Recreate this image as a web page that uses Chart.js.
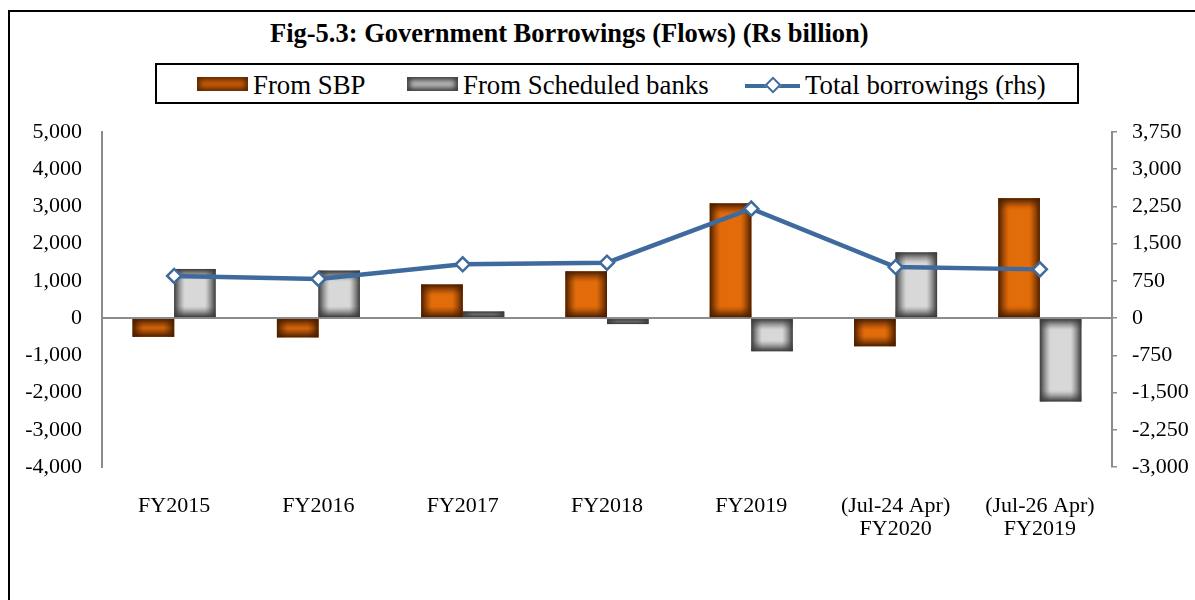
<!DOCTYPE html>
<html>
<head>
<meta charset="utf-8">
<script src="https://cdn.jsdelivr.net/npm/chart.js@4/dist/chart.umd.min.js"></script>
<style>
  html, body { margin: 0; padding: 0; background: #fff; }
  body { width: 1195px; height: 600px; position: relative; overflow: hidden; font-family: "Liberation Serif", "Times New Roman", serif; }
  #frame { position: absolute; left: 8px; top: 10px; width: 1200px; height: 600px; border-left: 2px solid #000; border-top: 2px solid #000; }
  #title { position: absolute; left: 270px; top: 20px; font-size: 26.5px; line-height: 1; font-weight: bold; white-space: nowrap; }
  #legend { position: absolute; left: 155px; top: 63px; width: 920px; height: 37px; border: 2px solid #000; }
  .item { position: absolute; top: 7px; font-size: 26.8px; line-height: 1; white-space: nowrap; }
  .swatch { position: absolute; width: 51px; height: 14px; }
  .sbp { background: #c85a08; box-shadow: inset 0 0 5px 3px #5a2800; }
  .banks { background: #b8b8b8; box-shadow: inset 0 0 5px 3px #3c3c3c; }
  .lineSw { position: absolute; width: 55px; height: 4px; background: #3f6a9e; }
  .diamond { position: absolute; width: 8px; height: 8px; background: #fff; border: 2.5px solid #3f6a9e; transform: rotate(45deg); }
  #wrap { position: absolute; left: 0; top: 0; width: 1195px; height: 600px; }
</style>
</head>
<body>
<div id="frame"></div>
<div id="title">Fig-5.3: Government Borrowings (Flows) (Rs billion)</div>
<div id="legend"></div>
<div id="wrap"><canvas id="chart"></canvas></div>
<script>
const categories = ["FY2015", "FY2016", "FY2017", "FY2018", "FY2019", ["(Jul-24 Apr)", "FY2020"], ["(Jul-26 Apr)", "FY2019"]];
const fromSBP = [-500, -515, 900, 1255, 3080, -753, 3218];
const fromBanks = [1320, 1275, 175, -160, -887, 1766, -2237];
const totalBorrowings = [850, 790, 1085, 1117, 2206, 1028, 982];
const seriesNames = ["From SBP", "From Scheduled banks", "Total borrowings (rhs)"];

const axisGray = "#8c8c8c";
const lineBlue = "#3f6a9e";
const fontFamily = "'Liberation Serif', 'Times New Roman', serif";

function buildLegend() {
  const box = document.getElementById("legend");
  const parts = [
    { kind: "sbp", sw: 40, tx: 96 },
    { kind: "banks", sw: 250, tx: 306 },
    { kind: "line", sw: 588, tx: 648 },
  ];
  parts.forEach((p, i) => {
    if (p.kind === "line") {
      const l = document.createElement("div");
      l.className = "lineSw";
      l.style.left = p.sw + "px";
      l.style.top = "19px";
      box.appendChild(l);
      const d = document.createElement("div");
      d.className = "diamond";
      d.style.left = p.sw + 22 + "px";
      d.style.top = "14px";
      box.appendChild(d);
    } else {
      const s = document.createElement("div");
      s.className = "swatch " + p.kind;
      s.style.left = p.sw + "px";
      s.style.top = "12px";
      box.appendChild(s);
    }
    const t = document.createElement("div");
    t.className = "item";
    t.style.left = p.tx + "px";
    t.textContent = seriesNames[i];
    box.appendChild(t);
  });
}

function hexToRgb(h) {
  const n = parseInt(h.slice(1), 16);
  return [(n >> 16) & 255, (n >> 8) & 255, n & 255];
}

// a linear gradient of the rim colour, opaque at both ends and fading inwards
function rimGradient(ctx, x0, y0, x1, y1, len, rgb) {
  const band = 11;
  const g = ctx.createLinearGradient(x0, y0, x1, y1);
  const n = 40;
  for (let k = 0; k <= n; k++) {
    const s = k / n;
    const d = Math.min(s, 1 - s) * len;
    const a = Math.pow(Math.max(0, 1 - d / band), 1.3);
    g.addColorStop(s, `rgba(${rgb[0]},${rgb[1]},${rgb[2]},${a.toFixed(3)})`);
  }
  return g;
}

// Excel-like "from centre" fill: light centre, dark rim
const shadeBars = {
  id: "shadeBars",
  afterDatasetDraw(chart, args) {
    const ds = chart.data.datasets[args.index];
    if (!ds.shade) return;
    const edge = hexToRgb(ds.shade.edge);
    const ctx = chart.ctx;
    ctx.save();
    args.meta.data.forEach((bar) => {
      const { x, y, base, width } = bar.getProps(["x", "y", "base", "width"], true);
      const left = x - width / 2;
      const top = Math.min(y, base);
      const w = width;
      const h = Math.abs(base - y);
      if (h <= 0) return;
      ctx.fillStyle = ds.shade.centre;
      ctx.fillRect(left, top, w, h);
      ctx.fillStyle = rimGradient(ctx, left, 0, left + w, 0, w, edge);
      ctx.fillRect(left, top, w, h);
      ctx.fillStyle = rimGradient(ctx, 0, top, 0, top + h, h, edge);
      ctx.fillRect(left, top, w, h);
    });
    ctx.restore();
  },
};

function renderChart() {
  const canvas = document.getElementById("chart");
  const tickFont = { family: fontFamily, size: 22 };
  return new Chart(canvas, {
    type: "bar",
    data: {
      labels: categories,
      datasets: [
        {
          type: "line",
          label: seriesNames[2],
          data: totalBorrowings,
          yAxisID: "y1",
          order: 0,
          borderColor: lineBlue,
          borderWidth: 4.5,
          pointStyle: "rectRot",
          pointRadius: 7,
          pointBorderWidth: 2.5,
          pointBackgroundColor: "#fff",
          pointBorderColor: lineBlue,
          tension: 0,
        },
        {
          label: seriesNames[0],
          data: fromSBP,
          yAxisID: "y",
          order: 1,
          backgroundColor: "#5a2800",
          borderWidth: 0,
          categoryPercentage: 0.575,
          barPercentage: 1,
          shade: { edge: "#4a1e00", centre: "#e36c0a" },
        },
        {
          label: seriesNames[1],
          data: fromBanks,
          yAxisID: "y",
          order: 1,
          backgroundColor: "#303030",
          borderWidth: 0,
          categoryPercentage: 0.575,
          barPercentage: 1,
          shade: { edge: "#3a3a3a", centre: "#d8d8d8" },
        },
      ],
    },
    options: {
      responsive: true,
      maintainAspectRatio: false,
      animation: false,
      layout: { padding: { top: 132, left: 0, right: 0, bottom: 0 } },
      plugins: {
        legend: { display: false },
        tooltip: { enabled: false },
        title: { display: false },
      },
      scales: {
        x: {
          afterFit: (s) => { s.height = 133; },
          grid: { display: false },
          border: { display: false },
          ticks: { color: "#000", font: { ...tickFont, lineHeight: 1.05 }, padding: 20, maxRotation: 0, autoSkip: false },
        },
        y: {
          position: "left",
          min: -4000,
          max: 5000,
          z: 1,
          afterFit: (s) => { s.width = 102; },
          afterBuildTicks: (s) => {
            s.ticks = [];
            for (let v = -4000; v <= 5000; v += 1000) s.ticks.push({ value: v });
          },
          grid: {
            drawTicks: false,
            lineWidth: 2,
            color: (c) => (c.tick && c.tick.value === 0 ? axisGray : "rgba(0,0,0,0)"),
          },
          border: { color: axisGray, width: 2 },
          ticks: {
            color: "#000",
            font: tickFont,
            padding: 20,
            callback: (v) => Number(v).toLocaleString("en-US"),
          },
        },
        y1: {
          position: "right",
          min: -3000,
          max: 3750,
          afterFit: (s) => { s.width = 83; },
          afterBuildTicks: (s) => {
            s.ticks = [];
            for (let v = -3000; v <= 3750; v += 750) s.ticks.push({ value: v });
          },
          grid: { drawOnChartArea: false, color: axisGray, lineWidth: 1.5, tickLength: 5 },
          border: { color: axisGray, width: 2 },
          ticks: {
            color: "#000",
            font: tickFont,
            padding: 15,
            callback: (v) => Number(v).toLocaleString("en-US"),
          },
        },
      },
    },
    plugins: [shadeBars],
  });
}

buildLegend();
renderChart();
</script>
</body>
</html>
